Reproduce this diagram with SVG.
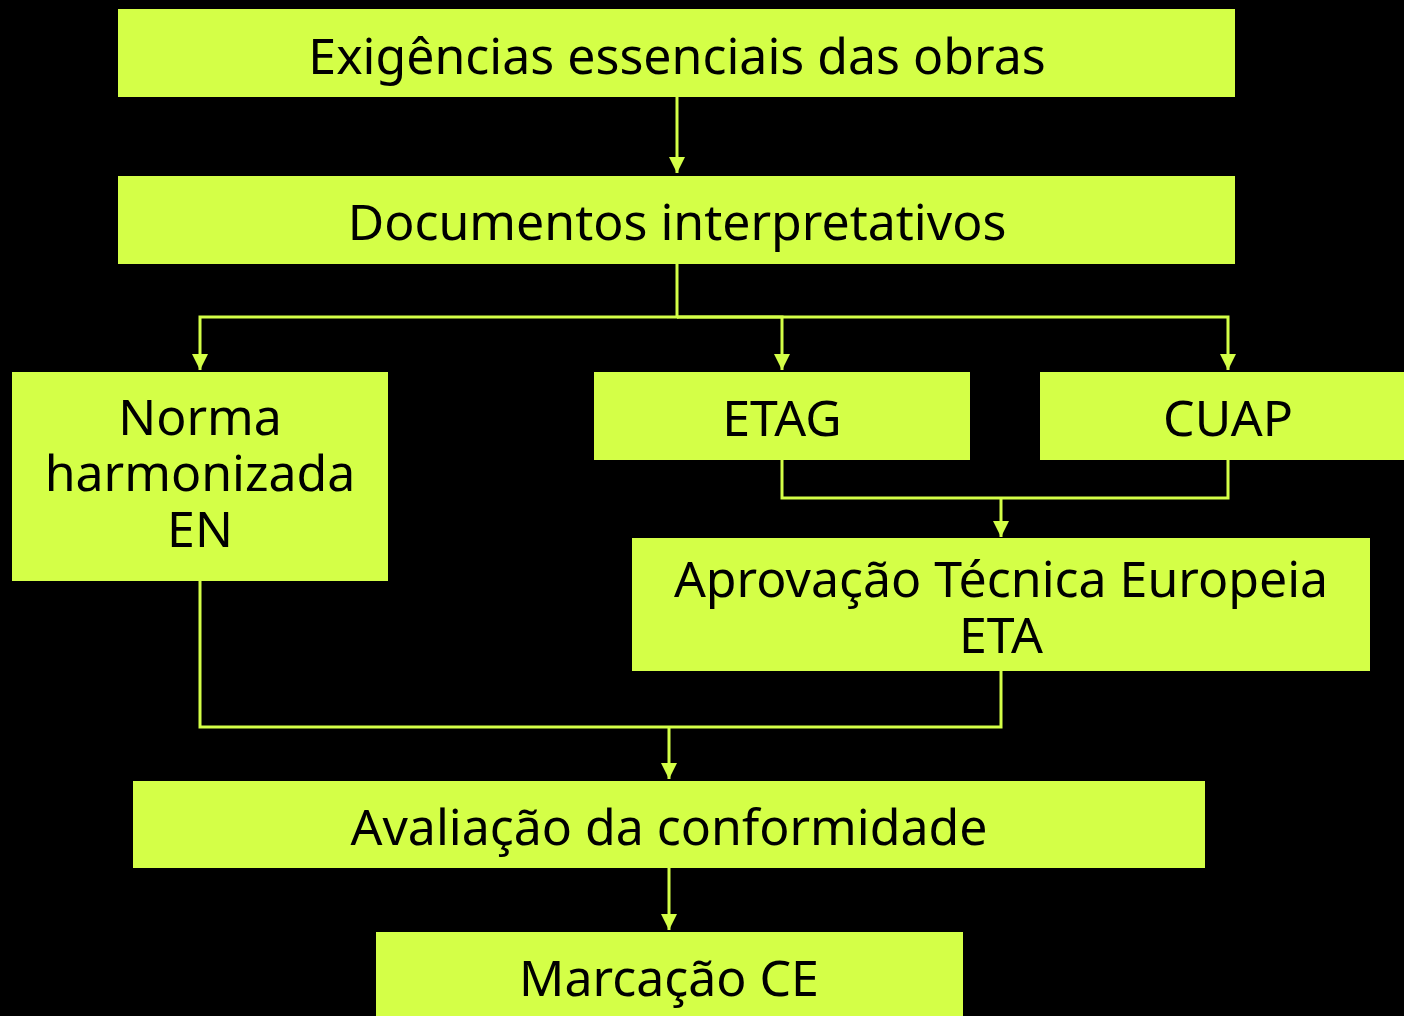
<svg xmlns="http://www.w3.org/2000/svg" width="1404" height="1016" viewBox="0 0 1404 1016">
<defs>
<style>
.box{fill:#D4FF47;}
.t{font-family:"Noto Sans","Open Sans",sans-serif;font-size:50px;fill:#000;text-anchor:middle;}
.c{fill:none;stroke:#D4FF47;stroke-width:3;}
</style>
<marker id="ah" viewBox="0 0 16 16" refX="16" refY="8" markerWidth="16" markerHeight="16" markerUnits="userSpaceOnUse" orient="auto">
<path d="M0,0 L16,8 L0,16 Z" fill="#D4FF47"/>
</marker>
</defs>
<rect width="1404" height="1016" fill="#000"/>
<g id="connectors">
<path class="c" d="M677,97 V173" marker-end="url(#ah)"/>
<path class="c" d="M677,264 V317 H200 V370" marker-end="url(#ah)"/>
<path class="c" d="M677,317 H782 V370" marker-end="url(#ah)"/>
<path class="c" d="M677,317 H1228 V370" marker-end="url(#ah)"/>
<path class="c" d="M782,460 V498 H1228 V460"/>
<path class="c" d="M1001,498 V537" marker-end="url(#ah)"/>
<path class="c" d="M200,581 V727 H1001 V671"/>
<path class="c" d="M669,727 V779" marker-end="url(#ah)"/>
<path class="c" d="M669,868 V930" marker-end="url(#ah)"/>
</g>
<g id="n1"><rect class="box" x="118" y="9" width="1117" height="88"/><text class="t" x="677" y="74">Exigências essenciais das obras</text></g>
<g id="n2"><rect class="box" x="118" y="176" width="1117" height="88"/><text class="t" x="677" y="240">Documentos interpretativos</text></g>
<g id="n3"><rect class="box" x="12" y="372" width="376" height="209"/><text class="t" x="200" y="435">Norma<tspan x="200" dy="56">harmonizada</tspan><tspan x="200" dy="56">EN</tspan></text></g>
<g id="n4"><rect class="box" x="594" y="372" width="376" height="88"/><text class="t" x="782" y="436">ETAG</text></g>
<g id="n5"><rect class="box" x="1040" y="372" width="370" height="88"/><text class="t" x="1228" y="436">CUAP</text></g>
<g id="n6"><rect class="box" x="632" y="538" width="738" height="133"/><text class="t" x="1001" y="597">Aprovação Técnica Europeia<tspan x="1001" dy="56">ETA</tspan></text></g>
<g id="n7"><rect class="box" x="133" y="781" width="1072" height="87"/><text class="t" x="669" y="845">Avaliação da conformidade</text></g>
<g id="n8"><rect class="box" x="376" y="932" width="587" height="90"/><text class="t" x="669" y="996">Marcação CE</text></g>
</svg>
